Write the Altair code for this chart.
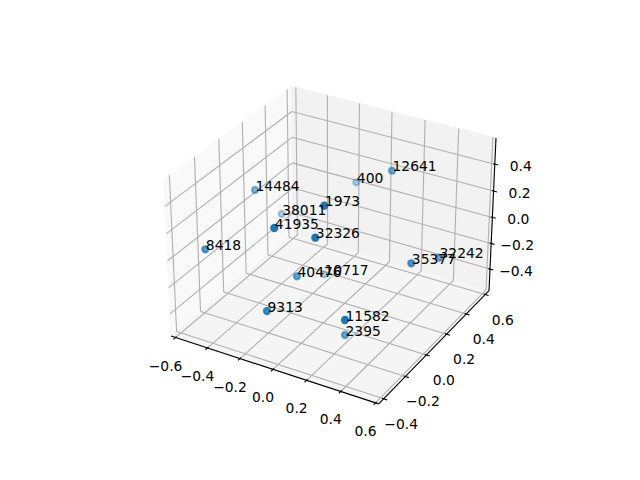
import numpy as np
import pandas as pd
import altair as alt

# Scatter points (screen position, depth-shade alpha, label)
labels = ["14484","12641","400","1973","38011","41935","32326","8418","40476","10717","9313","11582","2395","35377","32242"]
point_sx = [255,392,356.3,324.3,281.7,274.3,315.3,205.3,297,324,267,345,345,411.3,439]
point_sy = [190,170.7,182.3,205.7,214,228,237.7,249.3,276.3,274.3,311,320,335,263.3,257.7]
point_alpha = [0.52,0.58,0.33,1.0,0.33,1.0,1.0,0.72,0.65,0.3,0.85,1.0,0.62,0.75,0.62]

# Axis limits and ticks
xlim = (-0.628, 0.618)
ylim = (-0.445, 0.64)
zlim = (-0.571, 0.592)
xticks = [-0.6,-0.4,-0.2,0.0,0.2,0.4,0.6]
yticks = [-0.4,-0.2,0.0,0.2,0.4,0.6]
zticks = [-0.4,-0.2,0.0,0.2,0.4]

# 3D view
elev, azim, dist = np.radians(30), np.radians(-60), 10.0
aspect = np.array([4.0,4.0,3.0])
aspect = aspect*1.8294640721620434*25/24/np.linalg.norm(aspect)
R = aspect/2
ps = np.array([np.cos(elev)*np.cos(azim), np.cos(elev)*np.sin(azim), np.sin(elev)])
eye = R + dist*ps
w_ = ps
u_ = np.cross([0,0,1.0], w_); u_ /= np.linalg.norm(u_)
v_ = np.cross(w_, u_)
lims = np.array([xlim, ylim, zlim])

def proj(p):
    p = np.array(p, float)
    b = (p-lims[:,0])/(lims[:,1]-lims[:,0])*aspect
    d = b-eye
    ze = -d.dot(w_)
    X, Y = d.dot(u_)/ze, d.dot(v_)/ze
    return 143.2+(X+0.095)/0.185*369.6, 427.2-(Y+0.095)/0.185*369.6

x0,x1 = xlim; y0,y1 = ylim; z0,z1 = zlim
dx_, dy_ = (x1-x0)*0.08, (y1-y0)*0.08

seg = lambda rows: pd.DataFrame(rows, columns=["x","y","x2","y2"])
def line(a,b):
    pa, pb = proj(a), proj(b)
    return [pa[0],pa[1],pb[0],pb[1]]

grid = []
for t in xticks:
    grid += [line((t,y0,z0),(t,y1,z0)), line((t,y1,z0),(t,y1,z1))]
for t in yticks:
    grid += [line((x1,t,z0),(x0,t,z0)), line((x0,t,z0),(x0,t,z1))]
for t in zticks:
    grid += [line((x0,y0,t),(x0,y1,t)), line((x0,y1,t),(x1,y1,t))]

axes_lines = [line((x0,y0,z0),(x1,y0,z0)), line((x1,y0,z0),(x1,y1,z0)), line((x1,y1,z0),(x1,y1,z1))]
ticks = []
for t in xticks:
    ticks.append(line((t,y0+0.1*dy_,z0),(t,y0-0.2*dy_,z0)))
for t in yticks:
    ticks.append(line((x1-0.1*dx_,t,z0),(x1+0.2*dx_,t,z0)))
for t in zticks:
    ticks.append(line((x1-0.1*dx_,y1,t),(x1+0.2*dx_,y1,t)))

fmt = lambda t: f"{t:.1f}".replace("-", "\u2212")
tl = []
for t in xticks:
    sx,sy = proj((t,y0,z0)); tl.append((sx-10,sy+29,fmt(t)))
for t in yticks:
    sx,sy = proj((x1,t,z0)); tl.append((sx+17.5,sy+26,fmt(t)))
for t in zticks:
    sx,sy = proj((x1,y1,t)); tl.append((sx+26,sy+3,fmt(t)))
tl = pd.DataFrame(tl, columns=["x","y","t"])

def area_rows(verts):
    pts = [proj(v) for v in verts]
    n = len(pts)
    rows = []
    for xq in sorted({round(p[0],4) for p in pts}):
        ys = []
        for i in range(n):
            a,b = pts[i], pts[(i+1)%n]
            lo,hi = min(a[0],b[0]), max(a[0],b[0])
            if lo-1e-3 <= xq <= hi+1e-3:
                if abs(b[0]-a[0]) < 1e-6:
                    ys += [a[1],b[1]]
                else:
                    ys.append(a[1]+(xq-a[0])/(b[0]-a[0])*(b[1]-a[1]))
        rows.append((xq,min(ys),max(ys)))
    return pd.DataFrame(rows, columns=["x","y","y2"])

XS = alt.Scale(domain=[8,632], range=[0,624], nice=False, zero=False)
YS = alt.Scale(domain=[8,472], range=[0,464], nice=False, zero=False)
X = alt.X("x:Q", scale=XS, axis=None)
Y = alt.Y("y:Q", scale=YS, axis=None)

def pane(verts, color):
    return alt.Chart(area_rows(verts)).mark_area(color=color, stroke=color, strokeWidth=1, interpolate="linear").encode(
        x=X, y=Y, y2="y2:Q")

def rules(rows, color):
    return alt.Chart(seg(rows)).mark_rule(color=color, strokeWidth=1.11).encode(x=X, y=Y, x2="x2:Q", y2="y2:Q")

points = pd.DataFrame({"x":point_sx,"y":point_sy,"a":point_alpha,"t":labels})
texts = pd.DataFrame({"x":[v+0.5 for v in point_sx],"y":[v+0.7 for v in point_sy],"t":labels})

layers = [
    pane([(x0,y0,z0),(x0,y1,z0),(x0,y1,z1),(x0,y0,z1)], "#f9f9f9"),
    pane([(x0,y1,z0),(x1,y1,z0),(x1,y1,z1),(x0,y1,z1)], "#f2f2f2"),
    pane([(x0,y0,z0),(x1,y0,z0),(x1,y1,z0),(x0,y1,z0)], "#f5f5f5"),
    rules(grid, "#b0b0b0"),
    rules(axes_lines, "#000000"),
    rules(ticks, "#000000"),
    alt.Chart(points).mark_circle(color="#1f77b4", stroke="#1f77b4", strokeWidth=2.08, size=38.6).encode(
        x=X, y=Y,
        fillOpacity=alt.FillOpacity("a:Q", scale=None),
        strokeOpacity=alt.StrokeOpacity("a:Q", scale=None),
        opacity=alt.value(1)),
    alt.Chart(texts).mark_text(align="left", baseline="alphabetic", font="DejaVu Sans", fontSize=13.89, color="#000000").encode(
        x=X, y=Y, text="t:N"),
    alt.Chart(tl).mark_text(align="center", baseline="middle", font="DejaVu Sans", fontSize=13.89, color="#000000").encode(
        x=X, y=Y, text="t:N"),
]

chart = alt.layer(*layers).properties(width=624, height=464, padding=0,
        autosize=alt.AutoSizeParams(type="none")).configure_view(stroke=None)
chart.save("out.html", embed_options={"renderer": "svg", "actions": False})
